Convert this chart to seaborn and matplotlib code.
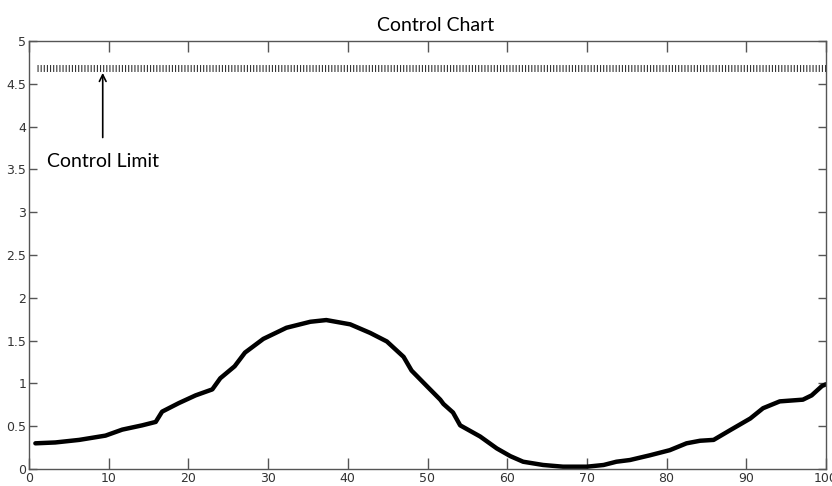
import numpy as np
import pandas as pd
import matplotlib
matplotlib.use("Agg")
import matplotlib.pyplot as plt
import seaborn as sns

# values
sample = [0.8, 3.3, 6.3, 9.6, 11.7, 14.2, 15.9, 16.7, 18.8, 20.9, 23.0, 24.0, 25.8,
          27.1, 29.4, 32.3, 35.3, 37.3, 40.3, 42.8, 44.9, 47.0, 48.0, 49.9, 51.6,
          52.0, 53.2, 54.1, 56.6, 58.7, 60.4, 62.0, 64.5, 67.0, 70.0, 72.1, 73.7,
          75.4, 77.9, 80.4, 82.5, 84.2, 85.9, 88.0, 90.5, 92.1, 94.2, 97.1, 98.2,
          99.5, 100.0]
statistic = [0.30, 0.31, 0.34, 0.39, 0.46, 0.51, 0.55, 0.67, 0.77, 0.86, 0.93, 1.06, 1.20,
             1.36, 1.52, 1.65, 1.72, 1.74, 1.69, 1.59, 1.49, 1.31, 1.15, 0.97, 0.81,
             0.76, 0.66, 0.51, 0.38, 0.24, 0.15, 0.085, 0.047, 0.027, 0.027, 0.047, 0.085,
             0.105, 0.16, 0.22, 0.30, 0.33, 0.34, 0.455, 0.59, 0.71, 0.79, 0.81, 0.86,
             0.97, 0.99]
control_limit = 4.68
limit_start, limit_end = 1, 100

x_ticks = list(range(0, 101, 10))
y_ticks = [0, 0.5, 1, 1.5, 2, 2.5, 3, 3.5, 4, 4.5, 5]
y_tick_labels = ["0", "0.5", "1", "1.5", "2", "2.5", "3", "3.5", "4", "4.5", "5"]

df = pd.DataFrame({"sample": sample, "statistic": statistic})

sns.set_theme(style="white")
plt.rcParams["font.family"] = ["Liberation Sans Narrow", "DejaVu Sans"]
plt.rcParams["lines.scale_dashes"] = False

fig = plt.figure(figsize=(8.32, 4.86), dpi=100)
ax = fig.add_axes([29 / 832, 17 / 486, 797 / 832, 428 / 486])

sns.lineplot(data=df, x="sample", y="statistic", color="black", linewidth=3.2,
             ax=ax, legend=False)

# control limit drawn as a dense row of short vertical bars
ax.hlines(control_limit, limit_start, limit_end, colors="#333333", linewidth=5,
          linestyles=(0, (0.8, 1.45)), capstyle="butt")

ax.annotate("", xy=(9.25, 4.66), xytext=(9.25, 3.84),
            arrowprops=dict(arrowstyle="->", color="black", lw=1.2,
                            mutation_scale=12))
ax.text(2.2, 3.53, "Control Limit", fontsize=14, family=["Lato", "DejaVu Sans"],
        color="black", va="baseline", ha="left")

fig.text(436 / 832, 1 - 31 / 486, "Control Chart", fontsize=14,
         family=["Lato", "DejaVu Sans"], ha="center", va="baseline", color="black")

ax.set_xlim(0, 100)
ax.set_ylim(0, 5)
ax.set_xticks(x_ticks)
ax.set_yticks(y_ticks)
ax.set_yticklabels(y_tick_labels)
ax.set_xlabel("")
ax.set_ylabel("")

for side in ax.spines.values():
    side.set_color("#555555")
    side.set_linewidth(1.0)
    side.set_visible(True)

ax.tick_params(axis="x", direction="in", length=8, width=1, color="#555555",
               top=True, bottom=True, labelsize=9, labelcolor="#333333", pad=2)
ax.tick_params(axis="y", direction="in", length=5.5, width=1, color="#555555",
               left=True, right=True, labelsize=9, labelcolor="#333333", pad=2)

fig.savefig("out.png", dpi=100)
